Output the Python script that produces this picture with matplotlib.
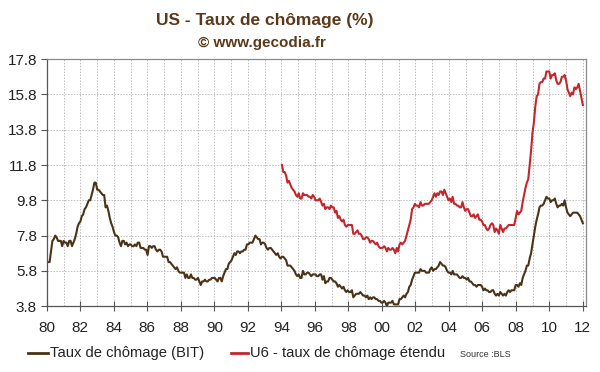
import numpy as np
import matplotlib
matplotlib.use('Agg')
import matplotlib.pyplot as plt
from matplotlib.lines import Line2D

# US unemployment rate (BIT / U-3), monthly, Jan 1980 - Dec 2011
bit = [
    6.3, 6.3, 6.3, 6.9, 7.5, 7.6, 7.8, 7.7, 7.5, 7.5, 7.5, 7.2,
    7.5, 7.4, 7.4, 7.2, 7.5, 7.5, 7.2, 7.4, 7.6, 7.9, 8.3, 8.5,
    8.6, 8.9, 9.0, 9.3, 9.4, 9.6, 9.8, 9.8, 10.1, 10.4, 10.8, 10.8,
    10.4, 10.4, 10.3, 10.2, 10.1, 10.1, 9.4, 9.5, 9.2, 8.8, 8.5, 8.3,
    8.0, 7.8, 7.8, 7.7, 7.4, 7.2, 7.5, 7.5, 7.3, 7.4, 7.2, 7.3,
    7.3, 7.2, 7.2, 7.3, 7.2, 7.4, 7.4, 7.1, 7.1, 7.1, 7.0, 7.0,
    6.7, 7.2, 7.2, 7.1, 7.2, 7.2, 7.0, 6.9, 7.0, 7.0, 6.9, 6.6,
    6.6, 6.6, 6.6, 6.3, 6.3, 6.2, 6.1, 6.0, 5.9, 6.0, 5.8, 5.7,
    5.7, 5.7, 5.7, 5.4, 5.6, 5.4, 5.4, 5.6, 5.4, 5.4, 5.3, 5.3,
    5.4, 5.2, 5.0, 5.2, 5.2, 5.3, 5.2, 5.2, 5.3, 5.3, 5.4, 5.4,
    5.4, 5.3, 5.2, 5.4, 5.4, 5.2, 5.5, 5.7, 5.9, 5.9, 6.2, 6.3,
    6.4, 6.6, 6.8, 6.7, 6.9, 6.9, 6.8, 6.9, 6.9, 7.0, 7.0, 7.3,
    7.3, 7.4, 7.4, 7.4, 7.6, 7.8, 7.7, 7.6, 7.6, 7.3, 7.4, 7.4,
    7.3, 7.1, 7.0, 7.1, 7.1, 7.0, 6.9, 6.8, 6.7, 6.8, 6.6, 6.5,
    6.6, 6.6, 6.5, 6.4, 6.1, 6.1, 6.1, 6.0, 5.9, 5.8, 5.6, 5.5,
    5.6, 5.4, 5.4, 5.8, 5.6, 5.6, 5.7, 5.7, 5.6, 5.5, 5.6, 5.6,
    5.6, 5.5, 5.5, 5.6, 5.6, 5.3, 5.5, 5.1, 5.2, 5.2, 5.4, 5.4,
    5.3, 5.2, 5.2, 5.1, 4.9, 5.0, 4.9, 4.8, 4.9, 4.7, 4.6, 4.7,
    4.6, 4.6, 4.7, 4.3, 4.4, 4.5, 4.5, 4.5, 4.6, 4.5, 4.4, 4.4,
    4.3, 4.4, 4.2, 4.3, 4.2, 4.3, 4.3, 4.2, 4.2, 4.1, 4.1, 4.0,
    4.0, 4.1, 4.0, 3.8, 4.0, 4.0, 4.0, 4.1, 3.9, 3.9, 3.9, 3.9,
    4.2, 4.2, 4.3, 4.4, 4.3, 4.5, 4.6, 4.9, 5.0, 5.3, 5.5, 5.7,
    5.7, 5.7, 5.7, 5.9, 5.8, 5.8, 5.8, 5.7, 5.7, 5.7, 5.9, 6.0,
    5.8, 5.9, 5.9, 6.0, 6.1, 6.3, 6.2, 6.1, 6.1, 6.0, 5.8, 5.7,
    5.7, 5.6, 5.8, 5.6, 5.6, 5.6, 5.5, 5.4, 5.4, 5.5, 5.4, 5.4,
    5.3, 5.4, 5.2, 5.2, 5.1, 5.0, 5.0, 4.9, 5.0, 5.0, 5.0, 4.9,
    4.7, 4.8, 4.7, 4.7, 4.6, 4.6, 4.7, 4.7, 4.5, 4.4, 4.5, 4.4,
    4.6, 4.5, 4.4, 4.5, 4.4, 4.6, 4.7, 4.6, 4.7, 4.7, 4.7, 5.0,
    5.0, 4.9, 5.1, 5.0, 5.4, 5.6, 5.8, 6.1, 6.1, 6.5, 6.8, 7.3,
    7.8, 8.3, 8.7, 9.0, 9.4, 9.5, 9.5, 9.6, 9.8, 10.0, 9.9, 9.9,
    9.7, 9.8, 9.8, 9.9, 9.6, 9.4, 9.5, 9.5, 9.6, 9.5, 9.8, 9.4,
    9.1, 9.0, 8.9, 9.0, 9.1, 9.1, 9.1, 9.1, 9.0, 8.9, 8.7, 8.5,
]

# U6 - extended unemployment rate, monthly, Jan 1994 - Dec 2011
u6 = [
    11.8, 11.4, 11.4, 11.2, 10.8, 10.9, 10.7, 10.5, 10.4, 10.3, 10.1, 10.0,
    10.2, 9.9, 9.9, 10.2, 10.1, 10.1, 10.1, 10.0, 10.0, 9.9, 10.1, 10.0,
    9.8, 9.8, 9.8, 9.9, 9.7, 9.5, 9.6, 9.3, 9.4, 9.4, 9.3, 9.5,
    9.4, 9.4, 9.1, 9.2, 8.8, 8.9, 8.7, 8.6, 8.7, 8.4, 8.3, 8.4,
    8.4, 8.4, 8.4, 7.9, 7.9, 8.0, 8.1, 7.9, 7.9, 7.8, 7.6, 7.6,
    7.7, 7.7, 7.6, 7.4, 7.5, 7.5, 7.4, 7.3, 7.4, 7.2, 7.1, 7.1,
    7.1, 7.2, 7.1, 6.9, 7.1, 7.0, 7.0, 7.1, 7.0, 6.8, 7.1, 6.9,
    7.3, 7.4, 7.3, 7.4, 7.5, 7.8, 8.1, 8.4, 8.7, 9.3, 9.4, 9.6,
    9.5, 9.5, 9.4, 9.7, 9.5, 9.5, 9.6, 9.6, 9.6, 9.6, 9.7, 9.8,
    10.0, 10.2, 10.0, 10.2, 10.1, 10.3, 10.3, 10.1, 10.4, 10.2, 10.0, 9.8,
    9.9, 9.7, 10.0, 9.6, 9.6, 9.5, 9.5, 9.4, 9.4, 9.7, 9.4, 9.2,
    9.3, 9.3, 9.1, 8.9, 8.9, 9.0, 8.8, 8.9, 9.0, 8.7, 8.7, 8.6,
    8.4, 8.4, 8.2, 8.1, 8.2, 8.4, 8.5, 8.4, 8.0, 8.2, 8.1, 7.9,
    8.4, 8.2, 8.0, 8.2, 8.2, 8.3, 8.4, 8.4, 8.4, 8.4, 8.4, 8.8,
    9.2, 9.0, 9.1, 9.2, 9.7, 10.1, 10.5, 10.8, 11.0, 11.8, 12.6, 13.6,
    14.2, 15.1, 15.7, 15.8, 16.4, 16.5, 16.5, 16.7, 16.7, 17.1, 17.1, 17.1,
    16.7, 16.9, 16.9, 17.0, 16.6, 16.4, 16.4, 16.5, 16.8, 16.8, 16.9, 16.6,
    16.1, 15.9, 15.7, 15.9, 15.8, 16.2, 16.1, 16.2, 16.4, 16.0, 15.6, 15.2,
]

year_ticks = list(range(1980, 2013, 2))
year_labels = ['%02d' % (y % 100) for y in year_ticks]
y_ticks = [3.8, 5.8, 7.8, 9.8, 11.8, 13.8, 15.8, 17.8]

brown = '#4b3318'
red = '#c3272d'
title_col = '#5b3a1b'

plt.rcParams['font.family'] = ['Liberation Sans', 'DejaVu Sans']

fig = plt.figure(figsize=(6, 3.72), dpi=100)
ax = fig.add_axes([0.078, 0.177, 0.899, 0.664])

# monthly points spread evenly across 1980-2012
x_all = np.linspace(1980, 2012, len(bit))
x_u6 = x_all[len(bit) - len(u6):]

ax.plot(x_all, bit, color=brown, lw=1.5)
ax.plot(x_u6, u6, color=red, lw=1.5)

ax.set_xlim(1980, 2012.2)
ax.set_ylim(3.8, 17.8)
ax.set_xticks(year_ticks)
ax.set_xticklabels(year_labels)
ax.set_xticks(range(1981, 2013), minor=True)
ax.set_yticks(y_ticks)
ax.set_yticklabels(['%.1f' % v for v in y_ticks])

ax.grid(True, which='both', axis='x', color='#bdbdbd', ls=(0, (1.5, 1.5)), lw=0.7)
ax.grid(True, which='major', axis='y', color='#bdbdbd', ls=(0, (1.5, 1.5)), lw=0.7)
ax.set_axisbelow(True)

ax.tick_params(axis='x', which='major', direction='inout', length=7, width=0.8,
               color='#555555', labelsize=11, pad=7, labelcolor='#222222')
ax.tick_params(axis='x', which='minor', length=0)
ax.tick_params(axis='y', direction='out', length=4, width=0.8,
               color='#555555', labelsize=11, pad=3, labelcolor='#222222')

for side in ['left', 'bottom']:
    ax.spines[side].set_color('#555555')
    ax.spines[side].set_linewidth(0.9)
for side in ['top', 'right']:
    ax.spines[side].set_color('#8a8a8a')
    ax.spines[side].set_linewidth(0.9)

fig.text(0.442, 0.946, 'US - Taux de chômage (%)', ha='center', va='center',
         fontsize=12.5, fontweight='bold', color=title_col)
fig.text(0.437, 0.884, '© www.gecodia.fr', ha='center', va='center',
         fontsize=11, fontweight='bold', color=title_col)

# legend row
ly = 0.052
fig.add_artist(Line2D([0.047, 0.080], [ly, ly], color=brown, lw=2))
fig.text(0.083, ly, 'Taux de chômage (BIT)', ha='left', va='center',
         fontsize=10.6, color='#222222')
fig.add_artist(Line2D([0.385, 0.413], [ly, ly], color=red, lw=2))
fig.text(0.416, ly, 'U6 - taux de chômage étendu', ha='left', va='center',
         fontsize=10.6, color='#222222')
fig.text(0.766, ly - 0.004, 'Source :BLS', ha='left', va='center',
         fontsize=6.5, color='#333333')

fig.savefig('out.png', dpi=100)
